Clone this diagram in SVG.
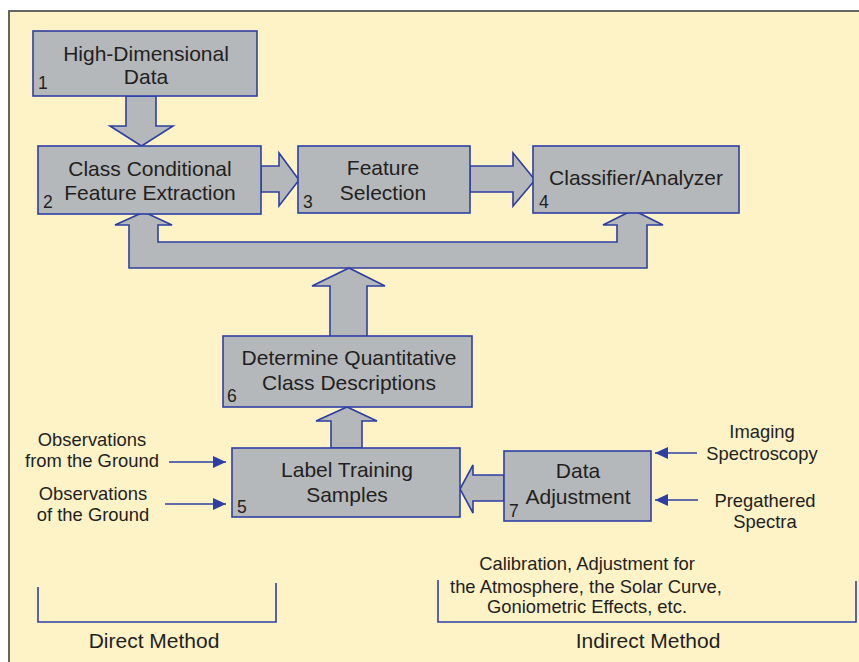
<svg xmlns="http://www.w3.org/2000/svg" width="859" height="662" viewBox="0 0 859 662">
<defs>
<style>
.box{fill:#B5B8BB;stroke:#2E3FA3;stroke-width:1.6}
.arr{fill:#B5B8BB;stroke:#2E3FA3;stroke-width:1.6;stroke-linejoin:miter}
.ln{stroke:#2E3FA3;stroke-width:1.6;fill:none}
.t{font-family:"Liberation Sans",Arial,sans-serif;font-size:21px;fill:#231F20;text-anchor:middle}
.n{font-family:"Liberation Sans",Arial,sans-serif;font-size:17.5px;fill:#231F20}
.s{font-family:"Liberation Sans",Arial,sans-serif;font-size:18.4px;fill:#231F20;text-anchor:middle}
</style>
<marker id="ah" markerUnits="userSpaceOnUse" markerWidth="14" markerHeight="14" viewBox="0 0 14 14" refX="13" refY="7" orient="auto">
<path d="M0,1 L13,7 L0,13 Z" fill="#2E3FA3"/>
</marker>
</defs>
<rect x="0" y="0" width="859" height="662" fill="#FFFFFF"/>
<rect x="9" y="11" width="870" height="670" fill="#FEF2C7" stroke="#555555" stroke-width="1.8"/>

<g id="connectors">
<polygon class="arr" points="126,96 156,96 156,126 173,126 141.5,146 110,126 126,126"/>
<polygon class="arr" points="261,166 279,166 279,153 299,180 279,206 279,192 261,192"/>
<polygon class="arr" points="470,166 513,166 513,153 535,180 513,206 513,192 470,192"/>
<polygon class="arr" points="144,212 172,225 158,225 158,242 617,242 617,225 603,225 633,210 663,225 647,225 647,268 129,268 129,225 115,225"/>
<polygon class="arr" points="330,337 330,286 312,286 349,268 385,286 367,286 367,337"/>
<polygon class="arr" points="331,448 331,421 316,421 347,407 377,421 362,421 362,448"/>
<polygon class="arr" points="504,475 473,475 473,465 460,489 473,513 473,501 504,501"/>
<line class="ln" x1="169" y1="462" x2="226" y2="462" marker-end="url(#ah)"/>
<line class="ln" x1="165" y1="504" x2="226" y2="504" marker-end="url(#ah)"/>
<line class="ln" x1="697" y1="453" x2="655" y2="453" marker-end="url(#ah)"/>
<line class="ln" x1="698" y1="500" x2="655" y2="500" marker-end="url(#ah)"/>
<polyline class="ln" points="38,587 38,622 276,622 276,583"/>
<polyline class="ln" points="438,580 438,622 856,622 856,581"/>
</g>

<g id="node1">
<rect class="box" x="33" y="31" width="224" height="65"/>
<text class="t" x="146" y="61">High-Dimensional</text>
<text class="t" x="146" y="84">Data</text>
<text class="n" x="38" y="89">1</text>
</g>
<g id="node2">
<rect class="box" x="38" y="146" width="223" height="68"/>
<text class="t" x="150" y="176">Class Conditional</text>
<text class="t" x="150" y="200">Feature Extraction</text>
<text class="n" x="43" y="208">2</text>
</g>
<g id="node3">
<rect class="box" x="298" y="146" width="172" height="67"/>
<text class="t" x="383" y="175">Feature</text>
<text class="t" x="383" y="200">Selection</text>
<text class="n" x="303" y="208">3</text>
</g>
<g id="node4">
<rect class="box" x="533" y="146" width="206" height="67"/>
<text class="t" x="636" y="185">Classifier/Analyzer</text>
<text class="n" x="539" y="208">4</text>
</g>
<g id="node6">
<rect class="box" x="223" y="336" width="249" height="71"/>
<text class="t" x="349" y="365">Determine Quantitative</text>
<text class="t" x="349" y="390">Class Descriptions</text>
<text class="n" x="227" y="402">6</text>
</g>
<g id="node5">
<rect class="box" x="232" y="448" width="228" height="69"/>
<text class="t" x="347" y="477">Label Training</text>
<text class="t" x="347" y="502">Samples</text>
<text class="n" x="237" y="513">5</text>
</g>
<g id="node7">
<rect class="box" x="504" y="451" width="147" height="70"/>
<text class="t" x="578" y="478">Data</text>
<text class="t" x="578" y="504">Adjustment</text>
<text class="n" x="509" y="517">7</text>
</g>

<g id="labels">
<text class="s" x="92" y="446">Observations</text>
<text class="s" x="92" y="467">from the Ground</text>
<text class="s" x="93" y="500">Observations</text>
<text class="s" x="93" y="521">of the Ground</text>
<text class="s" x="762" y="438">Imaging</text>
<text class="s" x="762" y="460">Spectroscopy</text>
<text class="s" x="765" y="507">Pregathered</text>
<text class="s" x="765" y="528">Spectra</text>
<text class="s" x="587" y="570">Calibration, Adjustment for</text>
<text class="s" x="586" y="593">the Atmosphere, the Solar Curve,</text>
<text class="s" x="587" y="613">Goniometric Effects, etc.</text>
<text class="t" x="154" y="648">Direct Method</text>
<text class="t" x="648" y="648">Indirect Method</text>
</g>
</svg>
